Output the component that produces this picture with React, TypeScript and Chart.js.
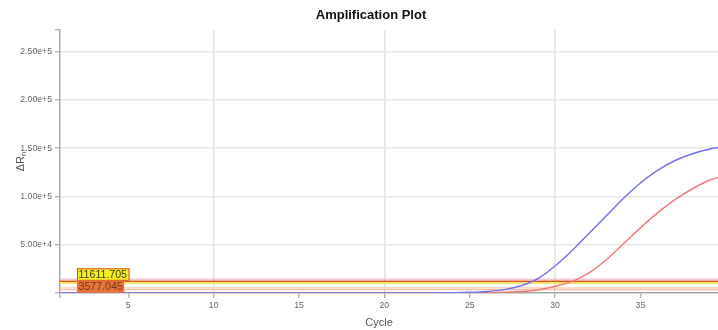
import { useEffect, useRef } from 'react';
import { Chart, registerables } from 'chart.js';

Chart.register(...registerables);

const cycles = [1, 2, 3, 4, 5, 6, 7, 8, 9, 10, 11, 12, 13, 14, 15, 16, 17, 18, 19, 20, 21, 22, 23, 24, 25, 26, 27, 28, 29, 30, 31, 32, 33, 34, 35, 36, 37, 38, 39, 40];
const sampleBlue = [0, 0, 0, 0, 0, 0, 0, 0, 0, 0, 0, 0, 0, 0, 0, 0, 0, 0, 0, 0, 0, 0, 100, 300, 700, 1600, 3500, 7500, 15000, 28000, 44000, 62000, 80000, 98000, 114000, 127000, 137000, 144000, 149000, 152000];
const sampleRed = [0, 0, 0, 0, 0, 0, 0, 0, 0, 0, 0, 0, 0, 0, 0, 0, 0, 0, 0, 0, 0, 0, 0, 0, 100, 300, 700, 1500, 3200, 7000, 12000, 21000, 34500, 51000, 67500, 83000, 96500, 107500, 116500, 122000];
const thresholdValues = [11611.705, 3577.045];
const thresholdLabels = ['11611.705', '3577.045'];
const xTickValues = [1, 5, 10, 15, 20, 25, 30, 35, 40];
const yTickValues = [0, 50000, 100000, 150000, 200000, 250000];
const xMin = 1;
const xMax = 40.95;
const yMin = 0;
const yMax = 272500;

const FONT = 'Arial, "Liberation Sans", sans-serif';

const overlayPlugin = {
  id: 'qpcrOverlay',
  beforeDatasetsDraw(chart: any) {
    const { ctx, chartArea, scales } = chart;
    const y = scales.y;
    const l = chartArea.left;
    const r = chartArea.right;
    const line = (py: number, color: string, w: number) => {
      ctx.save();
      ctx.strokeStyle = color;
      ctx.lineWidth = w;
      ctx.beginPath();
      ctx.moveTo(l, py);
      ctx.lineTo(r, py);
      ctx.stroke();
      ctx.restore();
    };
    const y2 = y.getPixelForValue(thresholdValues[1]);
    line(y2 - 1.8, 'rgba(250,215,195,0.9)', 1.5);
    line(y2, 'rgba(245,185,160,0.9)', 1.5);
    const y1 = y.getPixelForValue(thresholdValues[0]);
    line(y1 - 2.5, 'rgba(240,180,190,0.7)', 1.5);
    line(y1 - 0.6, '#e0562a', 1.6);
    line(y1 + 1.2, '#f3e03a', 1.5);
  },
  afterDatasetsDraw(chart: any) {
    const { ctx, chartArea, scales } = chart;
    const y1 = scales.y.getPixelForValue(thresholdValues[0]);
    const x0 = chartArea.left + 17;
    ctx.save();
    ctx.font = '10.6px ' + FONT;
    ctx.textBaseline = 'middle';
    // second label (behind)
    const w2 = ctx.measureText(thresholdLabels[1]).width + 3;
    const top2 = y1 - 0.5;
    ctx.fillStyle = '#e8743b';
    ctx.fillRect(x0, top2, w2, 11.5);
    ctx.fillStyle = '#6a3a1a';
    ctx.fillText(thresholdLabels[1], x0 + 1.5, top2 + 6);
    // first label
    const w1 = ctx.measureText(thresholdLabels[0]).width + 4;
    const top1 = y1 - 13.5;
    ctx.fillStyle = '#f4f020';
    ctx.fillRect(x0, top1, w1, 12.5);
    ctx.strokeStyle = '#e04a2a';
    ctx.lineWidth = 1;
    ctx.strokeRect(x0 + 0.5, top1 + 0.5, w1 - 1, 11.5);
    ctx.fillStyle = '#3a3a10';
    ctx.fillText(thresholdLabels[0], x0 + 1.5, top1 + 6.5);
    ctx.restore();
  },
  afterDraw(chart: any) {
    const { ctx, chartArea } = chart;
    ctx.save();
    ctx.fillStyle = '#555';
    ctx.font = '11px ' + FONT;
    ctx.textAlign = 'center';
    ctx.textBaseline = 'middle';
    ctx.fillText('Cycle', 379, 323);
    // y title: ΔR with subscript n, rotated
    const cy = (chartArea.top + chartArea.bottom) / 2;
    ctx.translate(21, cy);
    ctx.rotate(-Math.PI / 2);
    ctx.textAlign = 'left';
    ctx.font = '11px ' + FONT;
    const mainW = ctx.measureText('ΔR').width;
    ctx.font = '8px ' + FONT;
    const subW = ctx.measureText('n').width;
    const total = mainW + subW;
    ctx.font = '11px ' + FONT;
    ctx.fillText('ΔR', -total / 2, 0);
    ctx.font = '8px ' + FONT;
    ctx.fillText('n', -total / 2 + mainW, 3);
    ctx.restore();
  },
};

export default function App() {
  const canvasRef = useRef<HTMLCanvasElement | null>(null);

  useEffect(() => {
    if (!canvasRef.current) return;
    Chart.defaults.font.family = FONT;
    const chart = new Chart(canvasRef.current, {
      type: 'line',
      data: {
        datasets: [
          {
            label: 'Sample 1',
            data: cycles.map((c, i) => ({ x: c, y: sampleBlue[i] })),
            borderColor: '#7474ee',
            borderWidth: 1.5,
            pointRadius: 0,
            cubicInterpolationMode: 'monotone',
            fill: false,
          },
          {
            label: 'Sample 2',
            data: cycles.map((c, i) => ({ x: c, y: sampleRed[i] })),
            borderColor: '#f27a7a',
            borderWidth: 1.5,
            pointRadius: 0,
            cubicInterpolationMode: 'monotone',
            fill: false,
          },
        ],
      },
      options: {
        responsive: false,
        animation: false,
        devicePixelRatio: 1,
        layout: { padding: 0 },
        plugins: {
          legend: { display: false },
          tooltip: { enabled: false },
          title: {
            display: true,
            text: 'Amplification Plot',
            color: '#111',
            font: { size: 13, weight: 'bold', family: FONT },
            padding: { top: 8, bottom: 6.4 },
          },
        },
        scales: {
          x: {
            type: 'linear',
            min: xMin,
            max: xMax,
            afterBuildTicks: (scale: any) => {
              scale.ticks = xTickValues.map((v) => ({ value: v }));
            },
            afterFit: (scale: any) => {
              scale.height = 37;
            },
            ticks: {
              autoSkip: false,
              maxRotation: 0,
              padding: 2,
              color: '#666',
              font: { size: 8.7, family: FONT },
              callback: (v: any) => (v === xMin ? '' : String(v)),
            },
            grid: {
              color: (ctx: any) => (ctx.tick && ctx.tick.value % 10 === 0 ? '#e2e2e2' : 'rgba(0,0,0,0)'),
              lineWidth: 1.5,
              tickColor: '#a8a8a8',
              tickLength: 5,
              tickWidth: 1.2,
            },
            border: { display: true, color: '#a8a8a8', width: 1.5 },
          },
          y: {
            type: 'linear',
            min: yMin,
            max: yMax,
            afterBuildTicks: (scale: any) => {
              scale.ticks = [...yTickValues, yMax].map((v) => ({ value: v }));
            },
            afterFit: (scale: any) => {
              scale.width = 60;
            },
            ticks: {
              autoSkip: false,
              padding: 3,
              color: '#666',
              font: { size: 8.7, family: FONT },
              callback: (v: any) => (v === yMin || v === yMax ? '' : Number(v).toExponential(2)),
            },
            grid: {
              color: (ctx: any) =>
                ctx.tick && ctx.tick.value !== yMin && ctx.tick.value !== yMax ? '#e8e8e8' : 'rgba(0,0,0,0)',
              lineWidth: 1.5,
              tickColor: '#a8a8a8',
              tickLength: 5,
              tickWidth: 1.2,
            },
            border: { display: true, color: '#a8a8a8', width: 1.5 },
          },
        },
      },
      plugins: [overlayPlugin],
    } as any);
    return () => chart.destroy();
  }, []);

  return (
    <div
      style={{
        position: 'fixed',
        left: 0,
        top: 0,
        width: 718,
        height: 330,
        overflow: 'hidden',
        background: '#fff',
      }}
    >
      <canvas ref={canvasRef} width={742} height={330} style={{ display: 'block' }} />
    </div>
  );
}
